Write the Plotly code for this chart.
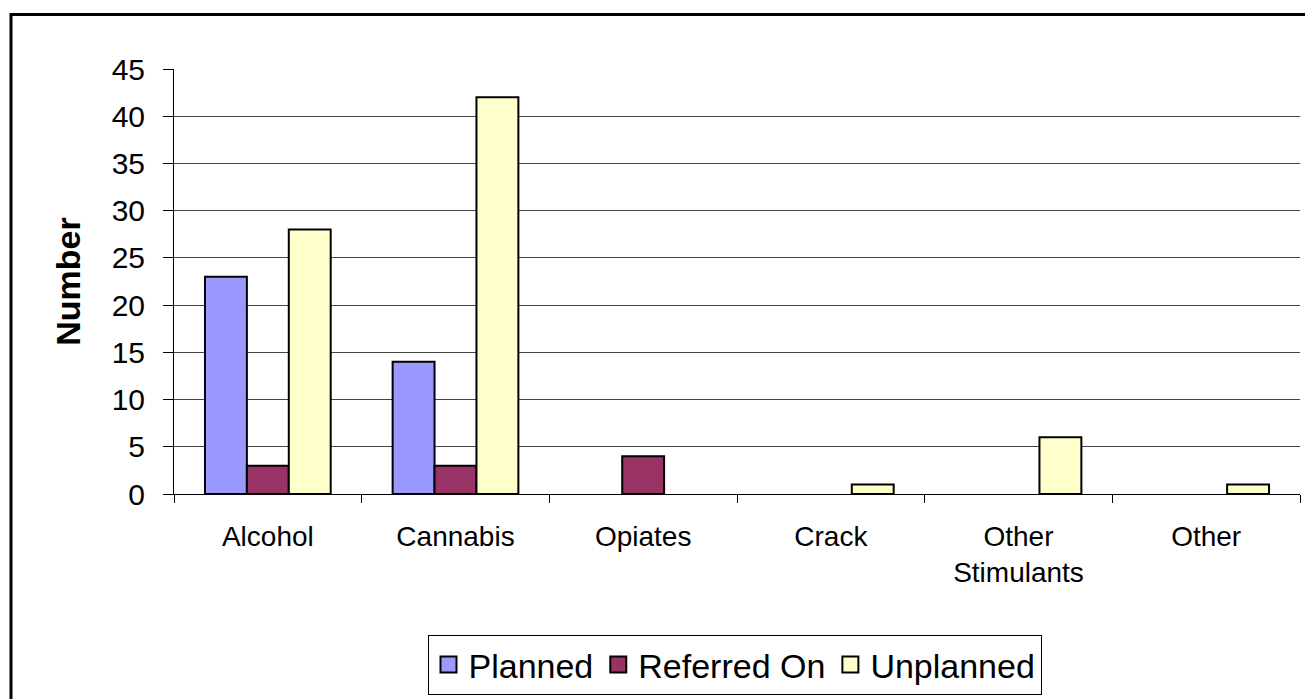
import plotly.graph_objects as go

categories = ["Alcohol", "Cannabis", "Opiates", "Crack", "Other<br>Stimulants", "Other"]
planned = [23, 14, 0, 0, 0, 0]
referred_on = [3, 3, 4, 0, 0, 0]
unplanned = [28, 42, 0, 1, 6, 1]
series_names = ["Planned", "Referred On", "Unplanned"]
series_colors = ["#9999FF", "#993366", "#FFFFCC"]
y_ticks = [0, 5, 10, 15, 20, 25, 30, 35, 40, 45]

# page body has an 8px margin; lay the figure out in window pixels minus that offset
OFF = 8
W, H = 1313 - OFF, 699 - OFF
L, R, T, B = 174 - OFF, 13, 69 - OFF, 699 - 494
pw, ph = W - L - R, H - T - B

def px_x(p):
    return (p - OFF - L) / pw

def px_y(p):
    return (H - B - (p - OFF)) / ph

FONT = "Liberation Sans, Arial, sans-serif"

fig = go.Figure()
for name, vals, col in zip(series_names, [planned, referred_on, unplanned], series_colors):
    fig.add_trace(go.Bar(
        x=categories, y=[v if v else None for v in vals], name=name, showlegend=False,
        marker=dict(color=col, line=dict(color="black", width=2)),
    ))
# legend entries with larger square swatches
for name, col in zip(series_names, series_colors):
    fig.add_trace(go.Scatter(
        x=[None], y=[None], mode="markers", name=name,
        marker=dict(symbol="square", size=16, color=col, line=dict(color="black", width=2)),
    ))

fig.update_layout(
    width=W, height=H,
    margin=dict(l=L, r=R, t=T, b=B, autoexpand=False),
    paper_bgcolor="white", plot_bgcolor="white",
    barmode="group", bargap=0.33, bargroupgap=0,
    font=dict(family=FONT, color="black"),
    showlegend=True,
    legend=dict(
        orientation="h", x=px_x(734.5), xanchor="center", y=px_y(635), yanchor="top",
        bordercolor="black", borderwidth=1, bgcolor="white",
        font=dict(size=34, family=FONT, color="black"),
        itemsizing="trace",
    ),
    xaxis=dict(
        type="category", tickson="boundaries", ticks="outside", ticklen=8,
        tickcolor="black", showline=True, linecolor="black", linewidth=1,
        showgrid=False, tickfont=dict(size=28, family=FONT, color="black"),
        ticklabelstandoff=17, automargin=False,
    ),
    yaxis=dict(
        range=[0, 45], tickvals=y_ticks, ticks="outside", ticklen=10,
        tickcolor="black", showline=True, linecolor="black", linewidth=1,
        showgrid=True, gridcolor="#444444", gridwidth=1, zeroline=False,
        tickfont=dict(size=30, family=FONT, color="black"),
        ticklabelstandoff=12, automargin=False,
        title=dict(text="<b>Number</b>", font=dict(size=34, family=FONT, color="black"), standoff=20),
    ),
    shapes=[dict(
        type="rect", xref="paper", yref="paper",
        x0=px_x(11), x1=px_x(1330), y0=px_y(720), y1=px_y(14.5),
        line=dict(color="black", width=3), fillcolor="rgba(0,0,0,0)", layer="above",
    )],
)

fig.write_html("out.html")
